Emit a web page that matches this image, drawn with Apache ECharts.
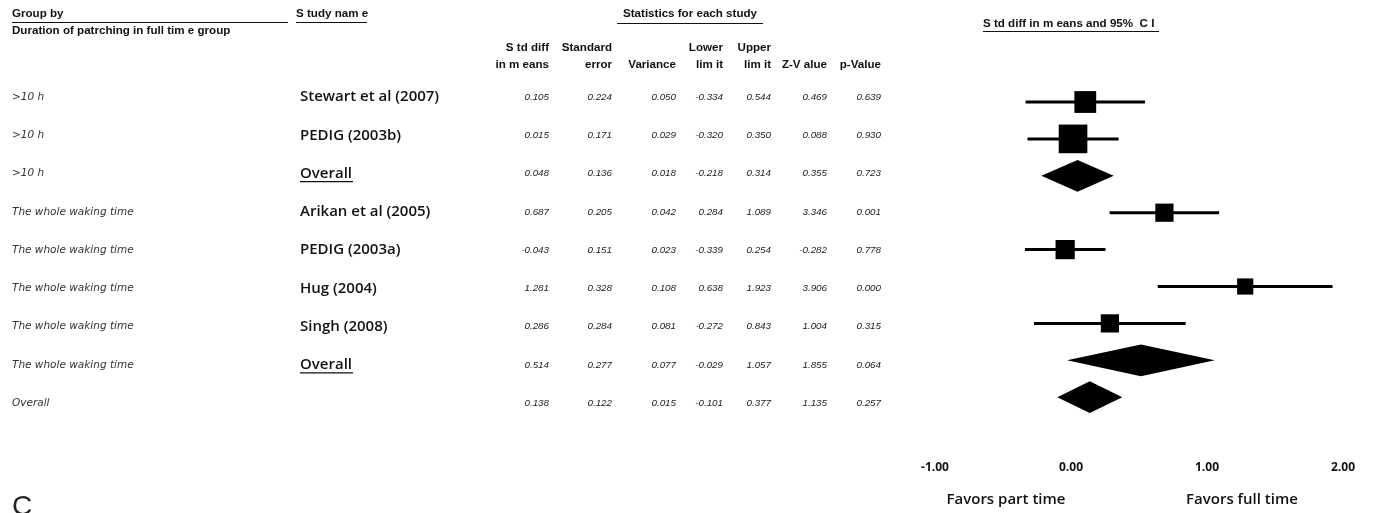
<!DOCTYPE html>
<html><head><meta charset="utf-8">
<script src="https://cdn.jsdelivr.net/npm/echarts@6/dist/echarts.min.js"></script>
<style>html,body{margin:0;padding:0;background:#fff}#c{width:1378px;height:513px}</style>
</head><body><div id="c"></div><script>
// ---- data ----
const groupLabels = ['>10 h','>10 h','>10 h','The whole waking time','The whole waking time','The whole waking time','The whole waking time','The whole waking time','Overall'];
const studyNames = ['Stewart et al (2007)','PEDIG (2003b)','Overall','Arikan et al (2005)','PEDIG (2003a)','Hug (2004)','Singh (2008)','Overall',''];
const rowType = ['study','study','summary','study','study','study','study','summary','summary'];
const stdDiff = [0.105, 0.015, 0.048, 0.687, -0.043, 1.281, 0.286, 0.514, 0.138];
const stdErr = [0.224, 0.171, 0.136, 0.205, 0.151, 0.328, 0.284, 0.277, 0.122];
const variance = [0.050, 0.029, 0.018, 0.042, 0.023, 0.108, 0.081, 0.077, 0.015];
const lowerLimit = [-0.334, -0.320, -0.218, 0.284, -0.339, 0.638, -0.272, -0.029, -0.101];
const upperLimit = [0.544, 0.350, 0.314, 1.089, 0.254, 1.923, 0.843, 1.057, 0.377];
const zValue = [0.469, 0.088, 0.355, 3.346, -0.282, 3.906, 1.004, 1.855, 1.135];
const pValue = [0.639, 0.930, 0.723, 0.001, 0.778, 0.000, 0.315, 0.064, 0.257];
const relWeight = [36.7, 63.3, null, 25.6, 28.5, 20.2, 25.6, null, null];
const xTicks = [-1, 0, 1, 2];

// ---- layout ----
const chart = echarts.init(document.getElementById('c'));
const rowIds = studyNames.map((_, i) => String(i));
const T_LEFT = 880, T_TOP = 77.9, T_H = 344.25;
const F_TOP = 83.55, F_H = 332.1;
const tRow = i => T_TOP + T_H / 9 * (i + 0.5);

const numStyle = {fontFamily: 'Liberation Sans', fontStyle: 'italic', fontSize: 9.8, color: '#222'};
function colAxis(values, rightX, extra) {
  return Object.assign({
    type: 'category', gridIndex: 1, inverse: true, position: 'left',
    offset: T_LEFT - rightX, data: values,
    axisLine: {show: false}, axisTick: {show: false}, splitLine: {show: false},
    axisLabel: Object.assign({interval: 0, margin: 0, align: 'right'}, numStyle)
  }, extra || {});
}
const fmt = a => a.map(v => v.toFixed(3));

const hdrFont = {fontFamily: 'Liberation Sans', fontWeight: 'bold', fontSize: 11.6, fill: '#111'};
function txt(text, x, y, align, extra) {
  return {type: 'text', x: x, y: y, silent: true,
    style: Object.assign({text: text, align: align || 'left', verticalAlign: 'middle'}, hdrFont, extra || {})};
}
function hline(x1, x2, y, w) {
  return {type: 'line', silent: true, shape: {x1: x1, y1: y, x2: x2, y2: y}, style: {stroke: '#111', lineWidth: w || 1}};
}
const colRight = [549, 612, 676, 723, 771, 827, 881];
const hdr1 = ['S td diff', 'Standard', '', 'Lower', 'Upper', '', ''];
const hdr2 = ['in m eans', 'error', 'Variance', 'lim it', 'lim it', 'Z-V alue', 'p-Value'];
const graphics = [
  txt('Group by', 12, 14), hline(12, 288, 22.5),
  txt('Duration of patrching in full tim e group', 12, 31),
  txt('S tudy nam e', 296, 14), hline(296, 367, 22.5),
  txt('Statistics for each study', 690, 14, 'center'), hline(617, 763, 23.5),
  txt('S td diff in m eans and 95%  C I', 983, 24), hline(983, 1159, 31.5),
  txt('Favors part time', 1006, 500, 'center', {fontFamily: 'Open Sans', fontWeight: 600, fontSize: 15}),
  txt('Favors full time', 1242, 500, 'center', {fontFamily: 'Open Sans', fontWeight: 600, fontSize: 15}),
  {type: 'text', x: 12, y: 493, silent: true, style: {text: 'C', fontFamily: 'Liberation Sans', fontSize: 28, fill: '#222', verticalAlign: 'top'}}
];
colRight.forEach((x, k) => {
  if (hdr1[k]) graphics.push(txt(hdr1[k], x, 48, 'right'));
  graphics.push(txt(hdr2[k], x, 65, 'right'));
});
studyNames.forEach((n, i) => { if (n === 'Overall') graphics.push(hline(300, 353, tRow(i) + 8, 1.2)); });

const forestData = stdDiff.map((v, i) => [i, v, lowerLimit[i], upperLimit[i], relWeight[i] == null ? 0 : relWeight[i], rowType[i] === 'summary' ? 1 : 0]);

const option = {
  backgroundColor: '#fff',
  animation: false,
  graphic: graphics,
  grid: [
    {left: 935, width: 408, top: F_TOP, height: F_H},
    {left: T_LEFT, width: 1, top: T_TOP, height: T_H, show: false}
  ],
  xAxis: [
    {type: 'value', gridIndex: 0, min: -1, max: 2, interval: 1,
     axisLine: {show: false}, axisTick: {show: false}, splitLine: {show: false},
     axisLabel: {margin: 46, formatter: v => v.toFixed(2), fontFamily: 'Open Sans', fontWeight: 'bold', fontSize: 12, color: '#111',
       customValues: xTicks}},
    {type: 'value', gridIndex: 1, show: false, min: 0, max: 1}
  ],
  yAxis: [
    {type: 'category', gridIndex: 0, inverse: true, data: rowIds, show: false},
    colAxis(groupLabels, 12, {axisLabel: {interval: 0, margin: 0, align: 'left', fontFamily: 'DejaVu Sans', fontStyle: 'italic', fontSize: 10.5, color: '#333'}, offset: T_LEFT - 12}),
    colAxis(studyNames, 300, {axisLabel: {interval: 0, margin: 0, align: 'left', fontFamily: 'Open Sans', fontWeight: 600, fontSize: 15, color: '#111'}, offset: T_LEFT - 300}),
    colAxis(fmt(stdDiff), colRight[0]),
    colAxis(fmt(stdErr), colRight[1]),
    colAxis(fmt(variance), colRight[2]),
    colAxis(fmt(lowerLimit), colRight[3]),
    colAxis(fmt(upperLimit), colRight[4]),
    colAxis(fmt(zValue), colRight[5]),
    colAxis(fmt(pValue), colRight[6])
  ],
  series: [
    {type: 'custom', xAxisIndex: 0, yAxisIndex: 0, data: forestData,
     encode: {x: [1, 2, 3], y: 0},
     renderItem: function (params, api) {
       const i = api.value(0);
       const c = api.coord([api.value(1), i]);
       const l = api.coord([api.value(2), i]);
       const h = api.coord([api.value(3), i]);
       const band = api.size([0, 1])[1];
       if (api.value(5) === 1) {
         const hh = band * 0.43;
         return {type: 'polygon', shape: {points: [[l[0], c[1]], [c[0], c[1] - hh], [h[0], c[1]], [c[0], c[1] + hh]]},
                 style: {fill: '#000'}};
       }
       const s = 3.6 * Math.sqrt(api.value(4));
       return {type: 'group', children: [
         {type: 'line', shape: {x1: l[0], y1: c[1], x2: h[0], y2: c[1]}, style: {stroke: '#000', lineWidth: 3}},
         {type: 'rect', shape: {x: c[0] - s / 2, y: c[1] - s / 2, width: s, height: s}, style: {fill: '#000'}}
       ]};
     }},
    {type: 'scatter', xAxisIndex: 1, yAxisIndex: 1, data: [], symbolSize: 0}
  ]
};
chart.setOption(option);
</script></body></html>
